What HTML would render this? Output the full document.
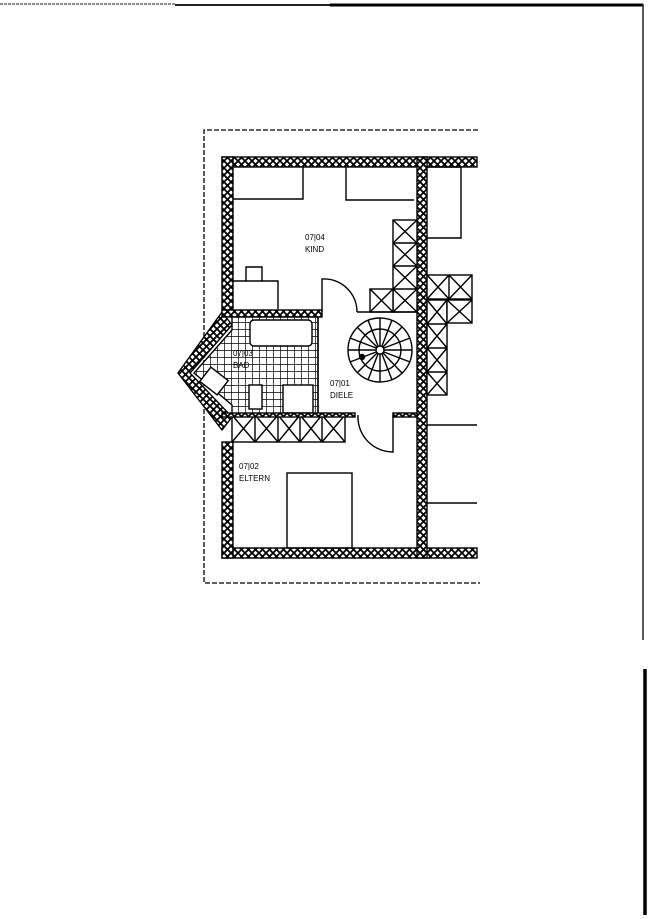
<!DOCTYPE html>
<html><head><meta charset="utf-8"><style>
html,body{margin:0;padding:0;background:#fff}
svg{display:block}
text{font-family:"Liberation Sans",sans-serif;font-size:8px;fill:#000}
</style></head><body>
<svg width="650" height="919" viewBox="0 0 650 919" xmlns="http://www.w3.org/2000/svg">
<defs>
<pattern id="hx" width="7" height="7" patternUnits="userSpaceOnUse">
<rect width="7" height="7" fill="#fff"/>
<path d="M0 0L7 7M7 0L0 7" stroke="#000" stroke-width="1.8"/>
</pattern>
<pattern id="grid" width="7" height="7" patternUnits="userSpaceOnUse">
<rect width="7" height="7" fill="#fff"/>
<path d="M0 0H7M0 0V7" stroke="#000" stroke-width="1.4"/>
</pattern>
</defs>
<line x1="0" y1="4" x2="175" y2="4" stroke="#666" stroke-width="1.5" stroke-dasharray="3 1"/>
<line x1="175" y1="5" x2="643" y2="5" stroke="#222" stroke-width="2"/>
<line x1="330" y1="5" x2="643" y2="5" stroke="#000" stroke-width="3"/>
<line x1="643" y1="4" x2="643" y2="640" stroke="#222" stroke-width="1.5"/>
<line x1="645" y1="669" x2="645" y2="915" stroke="#000" stroke-width="3.5"/>

<path d="M478 130H204V583H480" fill="none" stroke="#000" stroke-width="1.3" stroke-dasharray="5 2"/>

<g stroke="#000" stroke-width="1.4">
<rect x="222" y="157" width="255" height="10" fill="url(#hx)"/>
<rect x="222" y="548" width="255" height="10" fill="url(#hx)"/>
<rect x="222" y="157" width="11" height="153" fill="url(#hx)"/>
<rect x="222" y="442" width="11" height="116" fill="url(#hx)"/>
<rect x="417" y="157" width="10" height="401" fill="url(#hx)"/>
<polygon points="222,312 178,373 222,430 232,417 190,373 232,325" fill="url(#hx)"/>
<rect x="222" y="310" width="100" height="7" fill="url(#hx)"/>
<polygon points="232,317 318,317 318,415 232,415 232,405 194,373 232,330" fill="url(#grid)"/>
<rect x="250" y="320" width="62" height="26" rx="4" fill="#fff"/>
<rect x="283" y="385" width="30" height="28" fill="#fff"/>
<rect x="249" y="385" width="13" height="24" fill="#fff"/>
<rect x="203" y="372" width="22" height="18" transform="rotate(38 214 381)" fill="#fff"/>
<line x1="318" y1="317" x2="318" y2="415"/>
<rect x="232" y="415" width="113" height="27" fill="#fff"/>
<path d="M232 415 L255 442 M255 415 L232 442 M255 415 L278 442 M278 415 L255 442 M278 415 L300 442 M300 415 L278 442 M300 415 L322 442 M322 415 L300 442 M322 415 L345 442 M345 415 L322 442 M255 415V442M278 415V442M300 415V442M322 415V442" fill="none"/>
<rect x="222" y="413" width="133" height="4" fill="url(#hx)"/>
<rect x="393" y="413" width="24" height="4" fill="url(#hx)"/>
<rect x="393" y="220" width="24" height="92" fill="#fff"/>
<path d="M393 220L417 243M417 220L393 243M393 243H417M393 243L417 266M417 243L393 266M393 266H417M393 266L417 289M417 266L393 289M393 289H417M393 289L417 312M417 289L393 312"/>
<rect x="370" y="289" width="23" height="23" fill="#fff"/>
<path d="M370 289L393 312M393 289L370 312"/>
<line x1="357" y1="312" x2="417" y2="312"/>
<path d="M427 167H461V238H427 M427 425H477 M427 503H477" fill="none"/>
<rect x="427" y="275" width="45" height="24" fill="#fff"/>
<path d="M427 275L449 299M449 275L427 299M449 275V299M449 275L472 299M472 275L449 299"/>
<rect x="427" y="300" width="20" height="95" fill="#fff"/>
<path d="M427 300L447 324M447 300L427 324M427 324H447M427 324L447 348M447 324L427 348M427 348H447M427 348L447 372M447 348L427 372M427 372H447M427 372L447 395M447 372L427 395"/>
<rect x="447" y="300" width="25" height="23" fill="#fff"/>
<path d="M447 300L472 323M472 300L447 323"/>
<path d="M233 199H303V167 M346 167V200H414" fill="none"/>
<path d="M233 281H278V309 M246 281V267H262V281" fill="none"/>
<rect x="287" y="473" width="65" height="75" fill="none"/>
<path d="M322 312V279 A33 33 0 0 1 357 312" fill="none"/>
<path d="M358 415 A35 35 0 0 0 393 452V415" fill="none"/>
<circle cx="380" cy="350" r="32" fill="none"/>
<circle cx="380" cy="350" r="21" fill="none"/>
<circle cx="380" cy="350" r="4" fill="#fff"/>
<g>
<line x1="380" y1="318" x2="380" y2="346"/><line x1="402" y1="327" x2="383" y2="347"/>
<line x1="412" y1="350" x2="384" y2="350"/><line x1="402" y1="373" x2="383" y2="353"/>
<line x1="380" y1="382" x2="380" y2="354"/><line x1="357" y1="373" x2="377" y2="353"/>
<line x1="348" y1="350" x2="376" y2="350"/><line x1="357" y1="327" x2="377" y2="347"/>
<line x1="368" y1="320" x2="378" y2="346"/><line x1="392" y1="320" x2="382" y2="346"/>
<line x1="410" y1="338" x2="384" y2="348"/><line x1="410" y1="362" x2="384" y2="352"/>
<line x1="392" y1="380" x2="382" y2="354"/><line x1="368" y1="380" x2="378" y2="354"/>
<line x1="350" y1="362" x2="376" y2="352"/><line x1="350" y1="338" x2="376" y2="348"/>
</g>
<circle cx="362" cy="357" r="2.5" fill="#000"/>
</g>
<text x="305" y="240">07|04</text><text x="305" y="252">KIND</text>
<text x="233" y="356">07|03</text><text x="233" y="368">BAD</text>
<text x="330" y="386">07|01</text><text x="330" y="398">DIELE</text>
<text x="239" y="469">07|02</text><text x="239" y="481">ELTERN</text>
</svg>
</body></html>
